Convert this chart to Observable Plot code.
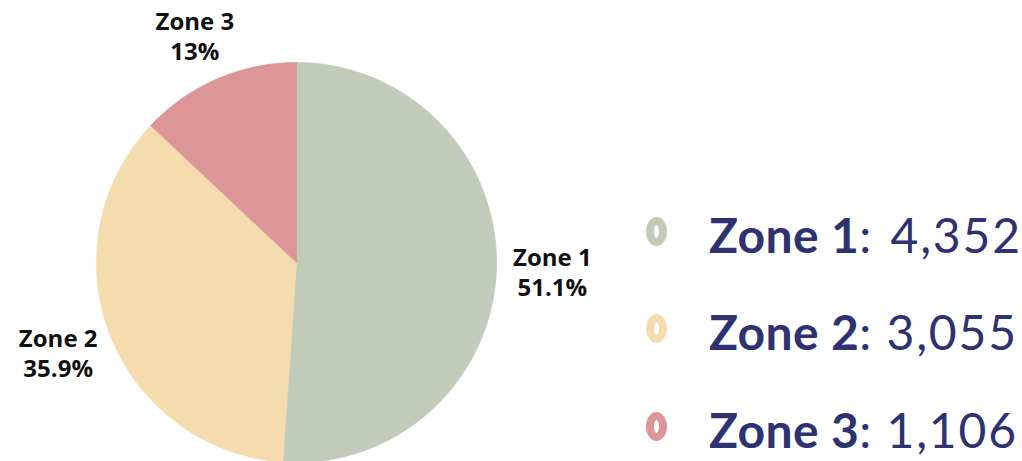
<!DOCTYPE html>
<html><head><meta charset="utf-8">
<script src="https://cdn.jsdelivr.net/npm/d3@7"></script>
<script src="https://cdn.jsdelivr.net/npm/@observablehq/plot@0.6"></script>
<style>
body{margin:0;background:#fff;}
#wrap{position:relative;width:1022px;height:461px;overflow:hidden;font-family:Lato,sans-serif;}
#chart{position:absolute;left:0;top:0;}
.row{position:absolute;left:709px;height:97.5px;line-height:97.5px;font-size:48px;color:#2e3270;white-space:pre;}
.row b{font-weight:700;letter-spacing:0.4px;}
.row .v{display:inline-block;letter-spacing:1.8px;margin-left:3px;}
.ring{position:absolute;left:-63px;top:31px;width:21px;height:29px;box-sizing:border-box;border:8px solid;border-radius:50%;}
</style></head>
<body>
<div id="wrap"><div id="chart"></div><div id="legend"></div></div>
<script>
const zones = ["Zone 1", "Zone 2", "Zone 3"];
const counts = [4352, 3055, 1106];
const shares = [51.1, 35.9, 13];
const countLabels = ["4,352", "3,055", "1,106"];
const colors = ["#c2cbb9", "#f5dcae", "#dc9697"];

const arcs = d3.pie().sort(null).value(d => d)(shares);
const pts = [];
arcs.forEach((a, i) => {
  pts.push({zone: zones[i], x: 0, y: 0});
  const n = Math.max(2, Math.ceil((a.endAngle - a.startAngle) / 0.005));
  for (let k = 0; k <= n; k++) {
    const t = a.startAngle + (a.endAngle - a.startAngle) * k / n;
    pts.push({zone: zones[i], x: Math.sin(t), y: Math.cos(t)});
  }
  pts.push({zone: zones[i], x: 0, y: 0});
});
const labels = arcs.map((a, i) => {
  const m = (a.startAngle + a.endAngle) / 2;
  return {zone: zones[i], x: Math.sin(m) * 1.28, y: Math.cos(m) * 1.235, text: zones[i] + "\n" + shares[i] + "%"};
});

const chart = Plot.plot({
  width: 620,
  height: 461,
  style: {fontFamily: "'Open Sans', sans-serif", background: "transparent", overflow: "visible"},
  x: {domain: [-1, 1], range: [96, 496], axis: null},
  y: {domain: [-1, 1], range: [462, 62], axis: null},
  color: {domain: zones, range: colors},
  marks: [
    Plot.line(pts, {x: "x", y: "y", z: "zone", fill: "zone", stroke: "zone", strokeWidth: 0.8}),
    Plot.text(labels, {x: "x", y: "y", text: "text", fontSize: 24, fontWeight: 700, fill: "#111", lineHeight: 30 / 24})
  ]
});
document.getElementById("chart").appendChild(chart);

const legend = document.getElementById("legend");
zones.forEach((z, i) => {
  const row = document.createElement("div");
  row.className = "row";
  row.style.top = (185.7 + i * 97.5) + "px";
  const ring = document.createElement("span");
  ring.className = "ring";
  ring.style.borderColor = colors[i];
  row.appendChild(ring);
  const b = document.createElement("b");
  b.textContent = z;
  row.appendChild(b);
  row.appendChild(document.createTextNode(": "));
  const v = document.createElement("span");
  v.className = "v";
  if (i === 0) v.style.marginLeft = "7px";
  v.textContent = countLabels[i];
  row.appendChild(v);
  legend.appendChild(row);
});
</script>
</body></html>
